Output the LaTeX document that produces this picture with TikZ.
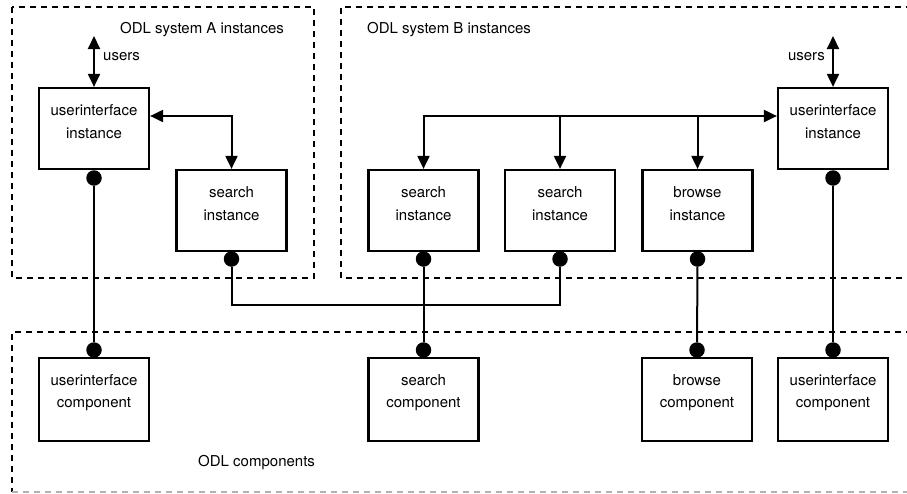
\documentclass[tikz,border=0pt]{standalone}
\usepackage{fontspec}
\setmainfont{TeX Gyre Heros}
\usetikzlibrary{arrows.meta,calc}
\tikzset{
  box/.style={draw, line width=2.2pt, minimum width=110pt, minimum height=81pt, inner sep=0pt},
  cbox/.style={box, minimum height=83pt},
  boxtext/.style={align=center, font=\fontsize{15}{22.5}\selectfont, inner sep=0pt, yshift=7pt},
  region/.style={line width=2pt, dash pattern=on 6pt off 5pt},
  conn/.style={line width=2pt},
  arr/.style={conn, -{Triangle[length=13pt,width=12pt]}},
  dblarr/.style={conn, {Triangle[length=13pt,width=12pt]}-{Triangle[length=13pt,width=12pt]}},
  ball/.style={circle, fill=black, minimum size=15.5pt, inner sep=0pt},
  lbl/.style={font=\fontsize{15}{18}\selectfont, inner sep=0pt}
}
\begin{document}
\begin{tikzpicture}[x=1pt,y=-1pt]
\useasboundingbox (0,0) rectangle (907,493);
% regions
\draw[region] (12,7) rectangle (314,278);
\draw[region] (912,7) -- (341,7) -- (341,278) -- (912,278);
\draw[region] (912,332) -- (12,332) -- (12,492);
\draw[region, black!30, line width=1.2pt] (12,492) -- (912,492);
\node[lbl, anchor=west] (labA) at (120,30) {ODL system A instances};
\node[lbl, anchor=west] (labB) at (367,30) {ODL system B instances};
\node[lbl, anchor=west] (labC) at (198,463) {ODL components};
% instance boxes
\node[box, label={[boxtext]center:{userinterface\\instance}}] (uiA) at (94,128.5) {};
\node[box, label={[boxtext]center:{search\\instance}}] (searchA) at (231.5,210.5) {};
\node[box, label={[boxtext]center:{search\\instance}}] (searchB1) at (423.5,210.5) {};
\node[box, label={[boxtext]center:{search\\instance}}] (searchB2) at (560,210.5) {};
\node[box, label={[boxtext]center:{browse\\instance}}] (browseI) at (697.5,210.5) {};
\node[box, label={[boxtext]center:{userinterface\\instance}}] (uiB) at (833,128.5) {};
% component boxes
\node[cbox, label={[boxtext]center:{userinterface\\component}}] (uiC1) at (94,399.5) {};
\node[cbox, label={[boxtext]center:{search\\component}}] (searchC) at (423.5,399.5) {};
\node[cbox, label={[boxtext]center:{browse\\component}}] (browseC) at (697,399.5) {};
\node[cbox, label={[boxtext]center:{userinterface\\component}}] (uiC2) at (833,399.5) {};
% users
\coordinate (usersA) at (94,36);
\coordinate (usersB) at (833,36);
\draw[dblarr] (usersA) -- (uiA.north);
\draw[dblarr] (usersB) -- (uiB.north);
\node[lbl, anchor=west] (uA) at (103,57) {users};
\node[lbl, anchor=east] (uB) at (825,57) {users};
% A internal
\coordinate (ha) at (231.5,116);
\draw[dblarr] (uiA.east |- ha) -- (ha) -- (searchA.north);
% B internal
\coordinate (hb) at (423.5,116);
\draw[dblarr] (searchB1.north) -- (hb) -- (uiB.west |- hb);
\draw[arr] (searchB2.north |- hb) -- (searchB2.north);
\draw[arr] (browseI.north |- hb) -- (browseI.north);
% balls
\node[ball] (bUiA) at (94,178) {};
\node[ball] (bSA) at (231.5,259) {};
\node[ball] (bSB1) at (423.5,259) {};
\node[ball] (bSB2) at (560,259) {};
\node[ball] (bBI) at (697.5,259) {};
\node[ball] (bUiB) at (833,178) {};
\node[ball] (bUiC1) at (94,350) {};
\node[ball] (bSC) at (423.5,350) {};
\node[ball] (bBC) at (697,350) {};
\node[ball] (bUiC2) at (833,350) {};
% connections
\draw[conn] (bUiA) -- (bUiC1);
\draw[conn] (bUiB) -- (bUiC2);
\draw[conn] (bBI) -- (bBC);
\draw[conn] (bSB1) -- (bSC);
\coordinate (jn) at (423.5,305);
\draw[conn] (bSA) |- (jn) -| (bSB2);
\end{tikzpicture}
\end{document}
